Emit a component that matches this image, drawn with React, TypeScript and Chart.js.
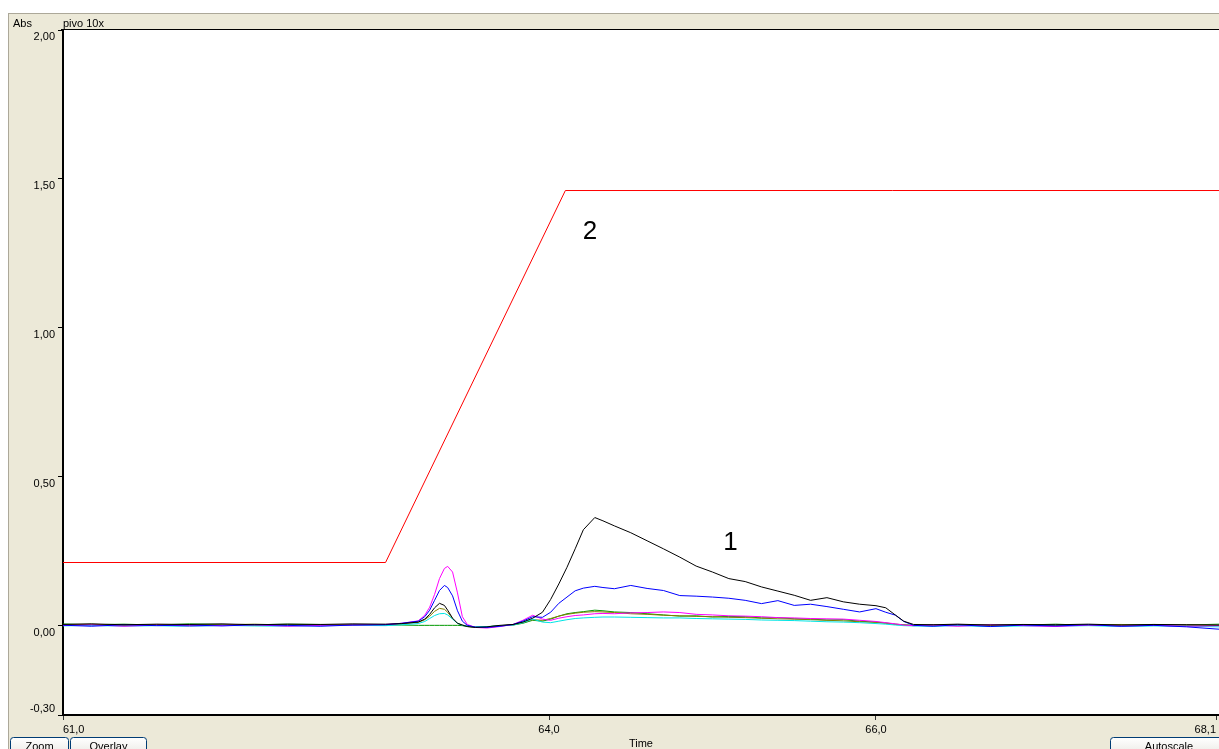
import React, { useEffect, useRef } from "react";
import { Chart, registerables } from "chart.js";

Chart.register(...registerables);

// ---- data ----
const chartTitle = "pivo 10x";
const yUnit = "Abs";
const xTitle = "Time";

const time = [
  61.0, 61.2, 61.4, 61.6, 61.8, 62.0, 62.2, 62.4, 62.6, 62.8, 63.0, 63.1,
  63.2, 63.24, 63.27, 63.3, 63.33, 63.36, 63.38, 63.41, 63.44, 63.47, 63.5, 63.55, 63.62, 63.7, 63.78,
  63.84, 63.9, 63.96, 64.01, 64.06, 64.11, 64.16, 64.21, 64.28, 64.33, 64.4, 64.5, 64.6, 64.7, 64.8, 64.9,
  65.0, 65.1, 65.2, 65.3, 65.4, 65.5, 65.6, 65.7, 65.8, 65.9, 66.0, 66.06, 66.12, 66.17, 66.23,
  66.35, 66.5, 66.7, 66.9, 67.1, 67.3, 67.5, 67.7, 67.9, 68.1,
];

const blackSignal = [
  0.004, 0.006, 0.003, 0.005, 0.004, 0.006, 0.003, 0.005, 0.004, 0.006, 0.005, 0.007,
  0.012, 0.022, 0.038, 0.06, 0.075, 0.068, 0.052, 0.025, 0.008, 0.002, -0.003, -0.006, -0.004, 0.001, 0.004,
  0.012, 0.025, 0.045, 0.088, 0.14, 0.196, 0.258, 0.322, 0.363, 0.352, 0.335, 0.312, 0.285, 0.258, 0.23, 0.2,
  0.18, 0.158, 0.148, 0.13, 0.116, 0.102, 0.085, 0.094, 0.08, 0.072, 0.067, 0.06, 0.035, 0.015, 0.004,
  0.003, 0.005, 0.002, 0.004, 0.003, 0.005, 0.002, 0.004, 0.003, 0.002,
];

const blueSignal = [
  0.002, -0.002, 0.003, 0.0, 0.002, -0.001, 0.003, 0.001, -0.002, 0.002, 0.003, 0.008,
  0.015, 0.03, 0.052, 0.085, 0.118, 0.135, 0.128, 0.1, 0.05, 0.015, 0.001, -0.005, -0.006, -0.002, 0.004,
  0.015, 0.03, 0.028, 0.045, 0.075, 0.096, 0.117, 0.126, 0.132, 0.128, 0.124, 0.135, 0.125, 0.118, 0.101, 0.099,
  0.096, 0.092, 0.085, 0.074, 0.084, 0.068, 0.072, 0.064, 0.055, 0.046, 0.057, 0.045, 0.035, 0.014, 0.001,
  -0.002, 0.003, -0.003, 0.002, -0.001, 0.003, -0.002, 0.001, -0.004, -0.012,
];

const magentaSignal = [
  0.0, 0.003, -0.002, 0.002, -0.001, 0.001, 0.003, -0.002, 0.001, 0.002, 0.004, 0.008,
  0.016, 0.035, 0.062, 0.105, 0.158, 0.192, 0.199, 0.18, 0.11, 0.03, 0.004, -0.006, -0.008, -0.003, 0.004,
  0.018, 0.035, 0.022, 0.018, 0.025, 0.03, 0.034, 0.036, 0.04, 0.041, 0.04, 0.043, 0.044, 0.046, 0.044, 0.038,
  0.036, 0.033, 0.032, 0.03, 0.027, 0.026, 0.024, 0.023, 0.022, 0.018, 0.014, 0.01, 0.006, 0.002, 0.0,
  0.002, -0.002, 0.003, 0.0, -0.003, 0.002, -0.001, 0.001, -0.002, 0.0,
];

const cyanSignal = [
  -0.001, 0.001, -0.002, 0.0, -0.003, 0.001, -0.001, -0.002, 0.0, 0.001, 0.0, 0.003,
  0.007, 0.014, 0.024, 0.034, 0.04, 0.041, 0.036, 0.022, 0.008, 0.001, -0.002, -0.004, -0.003, -0.001, 0.002,
  0.01, 0.022, 0.012, 0.01, 0.015, 0.02, 0.024, 0.026, 0.028, 0.029, 0.029, 0.028, 0.027, 0.026, 0.026, 0.024,
  0.023, 0.022, 0.021, 0.019, 0.018, 0.017, 0.015, 0.013, 0.012, 0.01, 0.007, 0.005, 0.002, 0.0, -0.001,
  -0.002, 0.0, -0.003, -0.001, -0.002, 0.0, -0.003, -0.001, -0.002, -0.004,
];

const oliveSignal = [
  0.003, 0.005, 0.001, 0.004, 0.002, 0.003, 0.005, 0.002, 0.003, 0.004, 0.003, 0.006,
  0.011, 0.02, 0.032, 0.048, 0.058, 0.055, 0.045, 0.024, 0.008, 0.002, -0.002, -0.005, -0.004, 0.0, 0.003,
  0.01, 0.02, 0.018, 0.024, 0.032, 0.038, 0.042, 0.045, 0.047, 0.046, 0.044, 0.04, 0.038, 0.035, 0.033, 0.031,
  0.03, 0.028, 0.027, 0.025, 0.023, 0.022, 0.02, 0.018, 0.016, 0.013, 0.011, 0.008, 0.004, 0.002, 0.0,
  0.002, 0.004, 0.001, 0.003, 0.0, 0.002, 0.004, 0.001, 0.003, 0.001,
];

const greenSignal = [
  0.006, 0.003, 0.005, 0.002, 0.006, 0.004, 0.003, 0.005, 0.004, 0.002, 0.003, 0.002,
  0.001, 0.001, 0.001, 0.001, 0.001, 0.001, 0.001, 0.001, 0.001, 0.0, -0.003, -0.005, -0.004, 0.0, 0.002,
  0.008, 0.018, 0.015, 0.022, 0.032, 0.04, 0.044, 0.047, 0.052, 0.05, 0.046, 0.044, 0.04, 0.036, 0.032, 0.033,
  0.029, 0.031, 0.03, 0.026, 0.027, 0.023, 0.022, 0.019, 0.02, 0.015, 0.012, 0.009, 0.005, 0.003, 0.001,
  0.003, 0.0, 0.004, 0.002, 0.005, 0.001, 0.003, 0.004, 0.002, 0.005,
];

const gradientTime = [61.0, 63.0, 64.1, 68.1];
const gradientValue = [0.212, 0.212, 1.461, 1.461];

const xTickValues = [61.027, 64.0, 66.0, 68.08];
const xTickLabels = ["61,0", "64,0", "66,0", "68,1"];
const yTickValues = [2.0, 1.5, 1.0, 0.5, 0.0, -0.3];

const markTexts = ["1", "2"];
const markX = [65.11, 64.25];
const markY = [0.277, 1.323];

const buttonTexts = ["Zoom", "Overlay", "Autoscale"];

// ---- helpers ----
const toPoints = (xs: number[], ys: number[]) => xs.map((x, i) => ({ x, y: ys[i] }));

const FONT = '"Liberation Sans", Arial, sans-serif';
const BEIGE = "#ECE9D8";

function drawButton(ctx: CanvasRenderingContext2D, x: number, y: number, w: number, h: number, text: string) {
  const g = ctx.createLinearGradient(0, y, 0, y + h);
  g.addColorStop(0, "#FFFFFF");
  g.addColorStop(1, "#ECEBE6");
  ctx.fillStyle = g;
  ctx.beginPath();
  const r = 3;
  ctx.moveTo(x + r, y);
  ctx.lineTo(x + w - r, y);
  ctx.quadraticCurveTo(x + w, y, x + w, y + r);
  ctx.lineTo(x + w, y + h);
  ctx.lineTo(x, y + h);
  ctx.lineTo(x, y + r);
  ctx.quadraticCurveTo(x, y, x + r, y);
  ctx.closePath();
  ctx.fill();
  ctx.strokeStyle = "#003C74";
  ctx.lineWidth = 1;
  ctx.stroke();
  ctx.fillStyle = "#000";
  ctx.font = `11px ${FONT}`;
  ctx.textAlign = "center";
  ctx.textBaseline = "alphabetic";
  ctx.fillText(text, x + w / 2, 750);
}

const chromePlugin = {
  id: "chrome",
  beforeDraw(chart: any) {
    const { ctx, width, height, chartArea: a } = chart;
    ctx.save();
    ctx.fillStyle = "#FFFFFF";
    ctx.fillRect(0, 0, width, height);
    ctx.fillStyle = BEIGE;
    ctx.fillRect(8, 13, width - 8, a.top - 13);
    ctx.fillRect(8, 13, a.left - 8, height - 13);
    ctx.fillRect(8, a.bottom, width - 8, height - a.bottom);
    ctx.fillStyle = "#ACA899";
    ctx.fillRect(8, 13, width - 8, 1);
    ctx.fillRect(8, 13, 1, height - 13);
    ctx.fillStyle = "#000";
    ctx.font = `11px ${FONT}`;
    ctx.textAlign = "left";
    ctx.textBaseline = "alphabetic";
    ctx.fillText(yUnit, 13, 27);
    ctx.fillText(chartTitle, a.left, 27);
    ctx.restore();
  },
  afterDraw(chart: any) {
    const { ctx, width, chartArea: a, scales } = chart;
    ctx.save();
    ctx.fillStyle = "#000";
    ctx.fillRect(a.left - 2, a.top - 1, width - a.left + 2, 1);
    // curve markers
    ctx.font = `26px ${FONT}`;
    ctx.textAlign = "center";
    ctx.textBaseline = "middle";
    ctx.fillStyle = "#000";
    markTexts.forEach((t, i) => {
      ctx.fillText(t, scales.x.getPixelForValue(markX[i]), scales.y.getPixelForValue(markY[i]));
    });
    // buttons
    drawButton(ctx, 10.5, 737.5, 58, 16, buttonTexts[0]);
    drawButton(ctx, 70.5, 737.5, 76, 16, buttonTexts[1]);
    drawButton(ctx, 1110.5, 737.5, 117, 16, buttonTexts[2]);
    ctx.restore();
  },
};

export default function App() {
  const ref = useRef<HTMLCanvasElement | null>(null);

  useEffect(() => {
    if (!ref.current) return;
    const line = (label: string, xs: number[], ys: number[], color: string) => ({
      label,
      data: toPoints(xs, ys),
      borderColor: color,
      backgroundColor: color,
      borderWidth: 1,
      pointRadius: 0,
      tension: 0,
      fill: false,
    });
    const chart = new Chart(ref.current, {
      type: "line",
      data: {
        datasets: [
          line("2", gradientTime, gradientValue, "#FF0000"),
          line("1", time, blackSignal, "#000000"),
          line("blue", time, blueSignal, "#0000FF"),
          line("magenta", time, magentaSignal, "#FF00FF"),
          line("cyan", time, cyanSignal, "#00E5E5"),
          line("olive", time, oliveSignal, "#808000"),
          line("green", time, greenSignal, "#009900"),
        ],
      },
      options: {
        animation: false,
        responsive: false,
        events: [],
        layout: { padding: { top: 30, left: 0, right: 0, bottom: 0 } },
        plugins: { legend: { display: false }, tooltip: { enabled: false }, title: { display: false } },
        scales: {
          x: {
            type: "linear",
            min: 61.027,
            max: 68.098,
            afterBuildTicks: (s: any) => {
              s.ticks = xTickValues.map((v) => ({ value: v }));
            },
            afterFit: (s: any) => {
              s.height = 34;
            },
            ticks: {
              autoSkip: false,
              maxRotation: 0,
              align: "inner",
              padding: 3,
              color: "#000",
              font: { family: FONT, size: 11 },
              callback: (_v: any, i: number) => xTickLabels[i],
            },
            grid: { display: true, drawOnChartArea: false, drawTicks: true, tickLength: 5, color: "#333" },
            border: { display: true, color: "#000", width: 2 },
            title: {
              display: true,
              text: xTitle,
              color: "#000",
              font: { family: FONT, size: 11 },
              padding: { top: 0, bottom: -2 },
            },
          },
          y: {
            type: "linear",
            min: -0.3,
            max: 2.0,
            afterBuildTicks: (s: any) => {
              s.ticks = yTickValues.map((v) => ({ value: v }));
            },
            afterFit: (s: any) => {
              s.width = 63;
            },
            ticks: {
              autoSkip: false,
              padding: 3,
              labelOffset: 7,
              color: "#000",
              font: { family: FONT, size: 11 },
              callback: (v: any) => {
                const s = Number(v).toFixed(2).replace(".", ",");
                return Number(v) < 0 ? [s, "", ""] : s;
              },
            },
            grid: { display: true, drawOnChartArea: false, drawTicks: true, tickLength: 5, color: "#000" },
            border: { display: true, color: "#000", width: 2 },
          },
        },
      },
      plugins: [chromePlugin],
    } as any);
    return () => chart.destroy();
  }, []);

  return (
    <div style={{ position: "fixed", left: 0, top: 0, width: 1219, height: 749, background: "#fff" }}>
      <canvas ref={ref} width={1219} height={749} style={{ display: "block" }} />
    </div>
  );
}
